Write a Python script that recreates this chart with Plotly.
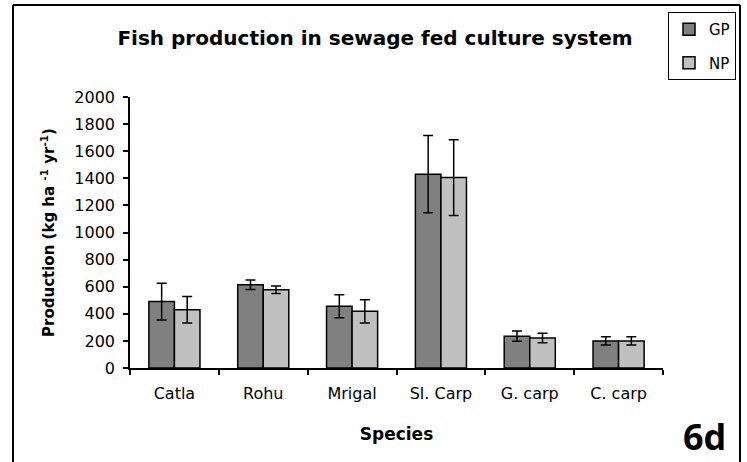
import plotly.graph_objects as go

# Mean fish production (kg ha-1 yr-1) per species, with standard errors
species = ["Catla", "Rohu", "Mrigal", "Sl. Carp", "G. carp", "C. carp"]
gp_values = [490, 615, 455, 1430, 235, 200]
gp_errors = [135, 35, 85, 285, 38, 30]
np_values = [430, 578, 418, 1405, 222, 200]
np_errors = [98, 28, 85, 280, 35, 30]
y_ticks = [0, 200, 400, 600, 800, 1000, 1200, 1400, 1600, 1800, 2000]

W, H = 747, 462
L, R, T, B = 130, 84, 97, 94
pw, ph = W - L - R, H - T - B

def px_x(x):
    return (x - L) / pw

def px_y(y):
    return (H - B - y) / ph

font_main = "DejaVu Sans"

fig = go.Figure()
fig.add_trace(go.Bar(
    name="GP", x=species, y=gp_values, legendgroup="GP",
    marker=dict(color="#808080", line=dict(color="black", width=1.5)),
    error_y=dict(type="data", array=gp_errors, color="black", thickness=1.5, width=5),
))
fig.add_trace(go.Bar(
    name="NP", x=species, y=np_values, legendgroup="NP",
    marker=dict(color="#c0c0c0", line=dict(color="black", width=1.5)),
    error_y=dict(type="data", array=np_errors, color="black", thickness=1.5, width=5),
))

frame = dict(color="black", width=2)

fig.update_layout(
    width=W, height=H,
    margin=dict(l=L, r=R, t=T, b=B, autoexpand=False),
    paper_bgcolor="white", plot_bgcolor="white",
    barmode="group", bargap=0.425, bargroupgap=0,
    font=dict(family=font_main, size=16, color="black"),
    title=dict(
        text="<b>Fish production in sewage fed culture system</b>",
        x=375 / W, xanchor="center", y=1 - 38 / H, yanchor="middle",
        font=dict(family=font_main, size=20, color="black"),
    ),
    showlegend=True,
    legend=dict(
        x=px_x(736), xanchor="right", y=px_y(12), yanchor="top",
        bordercolor="black", borderwidth=1, bgcolor="rgba(0,0,0,0)",
        font=dict(family=font_main, size=15, color="black"),
        itemwidth=30, tracegroupgap=11, traceorder="grouped",
    ),
    xaxis=dict(
        type="category", range=[-0.5, 5.5],
        showline=True, linecolor="black", linewidth=1.5,
        ticks="outside", tickson="boundaries", ticklen=5, tickcolor="black", tickwidth=1.5,
        ticklabelstandoff=10,
        tickfont=dict(family=font_main, size=16, color="black"),
        title=dict(text="<b>Species</b>", font=dict(family=font_main, size=17), standoff=26),
        showgrid=False, zeroline=False,
    ),
    yaxis=dict(
        range=[0, 2000], tickvals=y_ticks,
        showline=True, linecolor="black", linewidth=1.5,
        ticks="outside", ticklen=5, tickcolor="black", tickwidth=1.5,
        ticklabelstandoff=5,
        tickfont=dict(family=font_main, size=16, color="black"),
        title=dict(text="<b>Production (kg ha <sup>-1</sup> yr<sup>-1</sup>)</b>",
                   font=dict(family=font_main, size=15), standoff=16),
        showgrid=False, zeroline=False,
    ),
    shapes=[
        # outer chart frame, open at the bottom
        dict(type="line", xref="paper", yref="paper", layer="above",
             x0=px_x(13), x1=px_x(13), y0=px_y(5), y1=px_y(462), line=frame),
        dict(type="line", xref="paper", yref="paper", layer="above",
             x0=px_x(13), x1=px_x(740), y0=px_y(5), y1=px_y(5), line=frame),
        dict(type="line", xref="paper", yref="paper", layer="above",
             x0=px_x(740), x1=px_x(740), y0=px_y(5), y1=px_y(462), line=frame),
    ],
    annotations=[
        dict(text="<b>6d</b>", xref="paper", yref="paper",
             x=px_x(704), y=px_y(437), xanchor="center", yanchor="middle",
             showarrow=False, font=dict(family="Open Sans", size=36, color="black")),
    ],
)

fig.write_html("out.html")
